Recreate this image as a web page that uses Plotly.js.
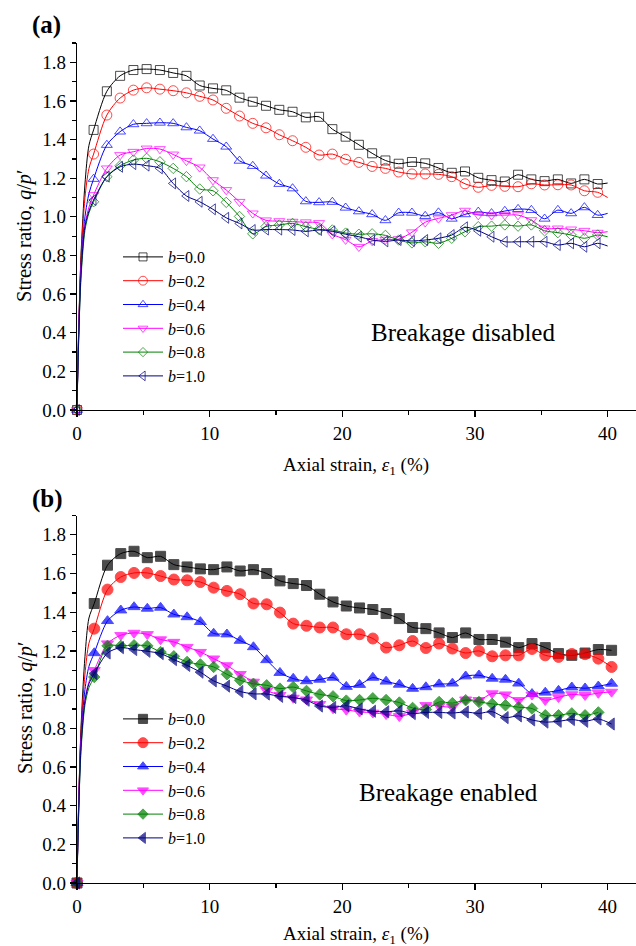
<!DOCTYPE html>
<html>
<head>
<meta charset="utf-8">
<script src="https://cdn.plot.ly/plotly-3.0.1.min.js"></script>
<style>
  html, body { margin: 0; padding: 0; background: #fff; }
  #chart { width: 636px; height: 946px; }
</style>
</head>
<body>
<div id="chart"></div>
<script>
// ---------- data ----------
const bLabels = ['0.0', '0.2', '0.4', '0.6', '0.8', '1.0'];

// initial steep rise (both panels)
const riseStrain = [0, 0.1, 0.3, 0.6, 0.9];

// (a) breakage disabled
const topStrain = [1.25, 2.25, 3.25, 4.25, 5.25, 6.25, 7.25, 8.25, 9.25, 10.25,
  11.25, 12.25, 13.25, 14.25, 15.25, 16.25, 17.25, 18.25, 19.25, 20.25,
  21.25, 22.25, 23.25, 24.25, 25.25, 26.25, 27.25, 28.25, 29.25, 30.25,
  31.25, 32.25, 33.25, 34.25, 35.25, 36.25, 37.25, 38.25, 39.25];
const topEndStrain = 40.0;

const topRiseB00 = [0, 0.35, 0.80, 1.17, 1.37];
const topRiseB02 = [0, 0.34, 0.78, 1.10, 1.25];
const topRiseB04 = [0, 0.33, 0.75, 1.00, 1.12];
const topRiseB06 = [0, 0.32, 0.72, 0.96, 1.05];
const topRiseB08 = [0, 0.30, 0.68, 0.93, 1.02];
const topRiseB10 = [0, 0.30, 0.70, 0.95, 1.03];

const topB00 = [1.45, 1.65, 1.73, 1.76, 1.765, 1.76, 1.745, 1.73, 1.68, 1.665,
  1.655, 1.617, 1.596, 1.575, 1.554, 1.544, 1.515, 1.518, 1.454, 1.415,
  1.373, 1.329, 1.292, 1.275, 1.284, 1.277, 1.253, 1.228, 1.235, 1.202,
  1.19, 1.183, 1.218, 1.194, 1.185, 1.194, 1.173, 1.194, 1.17];
const topB02 = [1.325, 1.527, 1.615, 1.656, 1.668, 1.661, 1.653, 1.642, 1.624, 1.605,
  1.562, 1.522, 1.484, 1.461, 1.425, 1.394, 1.36, 1.32, 1.325, 1.298,
  1.282, 1.261, 1.251, 1.232, 1.222, 1.222, 1.22, 1.208, 1.171, 1.153,
  1.163, 1.158, 1.156, 1.171, 1.165, 1.166, 1.165, 1.135, 1.127];
const topB04 = [1.196, 1.372, 1.441, 1.479, 1.484, 1.487, 1.484, 1.463, 1.446, 1.403,
  1.363, 1.29, 1.263, 1.213, 1.17, 1.147, 1.08, 1.075, 1.077, 1.047,
  1.028, 1.013, 0.982, 1.021, 1.021, 1.004, 1.022, 0.99, 1.013, 1.026,
  1.018, 1.03, 1.04, 1.035, 0.99, 1.035, 1.018, 1.049, 1.009];
const topB06 = [1.113, 1.251, 1.32, 1.337, 1.354, 1.351, 1.323, 1.29, 1.256, 1.19,
  1.139, 1.078, 1.018, 0.982, 0.978, 0.975, 0.972, 0.968, 0.91, 0.882,
  0.845, 0.875, 0.882, 0.885, 0.92, 0.972, 0.992, 1.009, 1.032, 1.009,
  1.009, 1.009, 1.009, 0.983, 0.94, 0.94, 0.935, 0.928, 0.918];
const topB08 = [1.078, 1.208, 1.265, 1.294, 1.303, 1.285, 1.251, 1.208, 1.144, 1.135,
  1.075, 1.002, 0.912, 0.95, 0.958, 0.966, 0.949, 0.935, 0.932, 0.916,
  0.91, 0.912, 0.904, 0.88, 0.865, 0.871, 0.863, 0.889, 0.923, 0.949,
  0.952, 0.958, 0.952, 0.958, 0.928, 0.918, 0.906, 0.889, 0.906];
const topB10 = [1.087, 1.208, 1.259, 1.273, 1.265, 1.251, 1.173, 1.108, 1.078, 1.039,
  0.995, 0.966, 0.932, 0.934, 0.934, 0.932, 0.925, 0.932, 0.925, 0.91,
  0.897, 0.88, 0.873, 0.88, 0.875, 0.88, 0.889, 0.906, 0.946, 0.928,
  0.897, 0.871, 0.871, 0.871, 0.871, 0.854, 0.863, 0.845, 0.863];
const topEnd = [1.175, 1.10, 1.018, 0.923, 0.897, 0.849];

// (b) breakage enabled
const botStrain = [1.3, 2.3, 3.3, 4.3, 5.3, 6.3, 7.3, 8.3, 9.3, 10.3,
  11.3, 12.3, 13.3, 14.3, 15.3, 16.3, 17.3, 18.3, 19.3, 20.3,
  21.3, 22.3, 23.3, 24.3, 25.3, 26.3, 27.3, 28.3, 29.3, 30.3,
  31.3, 32.3, 33.3, 34.3, 35.3, 36.3, 37.3, 38.3, 39.3, 40.3];

const botRiseB00 = [0, 0.35, 0.80, 1.17, 1.37];
const botRiseB02 = [0, 0.34, 0.78, 1.08, 1.24];
const botRiseB04 = [0, 0.33, 0.75, 1.00, 1.12];
const botRiseB06 = [0, 0.32, 0.72, 0.95, 1.04];
const botRiseB08 = [0, 0.30, 0.68, 0.92, 1.01];
const botRiseB10 = [0, 0.30, 0.70, 0.94, 1.03];

const botB00 = [1.445, 1.643, 1.703, 1.715, 1.682, 1.689, 1.646, 1.634, 1.624, 1.62,
  1.634, 1.613, 1.62, 1.6, 1.562, 1.548, 1.538, 1.493, 1.453, 1.432,
  1.422, 1.414, 1.393, 1.367, 1.321, 1.315, 1.293, 1.269, 1.293, 1.259,
  1.259, 1.245, 1.217, 1.238, 1.217, 1.186, 1.177, 1.189, 1.207, 1.203];
const botB02 = [1.315, 1.517, 1.582, 1.603, 1.603, 1.587, 1.569, 1.565, 1.556, 1.527,
  1.51, 1.493, 1.445, 1.441, 1.398, 1.341, 1.33, 1.321, 1.321, 1.286,
  1.286, 1.264, 1.217, 1.229, 1.251, 1.215, 1.238, 1.212, 1.189, 1.2,
  1.172, 1.177, 1.177, 1.21, 1.177, 1.169, 1.184, 1.183, 1.16, 1.117];
const botB04 = [1.189, 1.355, 1.41, 1.427, 1.419, 1.424, 1.389, 1.375, 1.35, 1.29,
  1.286, 1.253, 1.22, 1.153, 1.087, 1.057, 1.044, 1.052, 1.062, 1.015,
  1.025, 1.062, 1.042, 1.026, 1.005, 1.013, 1.028, 1.032, 1.069, 1.074,
  1.057, 1.052, 1.032, 0.978, 0.985, 0.995, 1.012, 1.007, 1.017, 1.031];
const botB06 = [1.10, 1.238, 1.281, 1.293, 1.286, 1.259, 1.246, 1.22, 1.194, 1.16,
  1.125, 1.08, 1.04, 0.995, 0.972, 0.957, 0.948, 0.925, 0.902, 0.895,
  0.885, 0.88, 0.872, 0.862, 0.88, 0.919, 0.915, 0.91, 0.948, 0.945,
  0.98, 0.974, 0.945, 0.973, 0.945, 0.96, 0.975, 0.971, 0.982, 0.988];
const botB08 = [1.065, 1.226, 1.226, 1.229, 1.226, 1.194, 1.172, 1.143, 1.13, 1.117,
  1.079, 1.048, 1.03, 1.022, 1.005, 1.013, 0.993, 0.975, 0.965, 0.943,
  0.946, 0.955, 0.946, 0.933, 0.905, 0.897, 0.936, 0.93, 0.945, 0.936,
  0.926, 0.919, 0.909, 0.902, 0.867, 0.867, 0.877, 0.867, 0.882];
const botB10 = [1.083, 1.189, 1.217, 1.207, 1.198, 1.186, 1.155, 1.125, 1.09, 1.045,
  1.018, 0.99, 0.978, 0.977, 0.965, 0.959, 0.945, 0.915, 0.908, 0.916,
  0.9, 0.888, 0.885, 0.89, 0.876, 0.882, 0.882, 0.879, 0.884, 0.877,
  0.886, 0.855, 0.864, 0.843, 0.832, 0.836, 0.845, 0.836, 0.848, 0.822];

// ---------- styles ----------
const colors = ['#000000', '#FF0000', '#0000FF', '#FF00FF', '#008000', '#000080'];
const symTop = ['square-open', 'circle-open', 'triangle-up-open', 'triangle-down-open', 'diamond-open', 'triangle-left-open'];
const symBot = ['square', 'circle', 'triangle-up', 'triangle-down', 'diamond', 'triangle-left'];
const sizeTop = [9, 10, 9.5, 9.5, 8, 9.5];
const sizeBot = [10, 11, 10.5, 10.5, 8.8, 10.5];

const topRise = [topRiseB00, topRiseB02, topRiseB04, topRiseB06, topRiseB08, topRiseB10];
const topVals = [topB00, topB02, topB04, topB06, topB08, topB10];
const botRise = [botRiseB00, botRiseB02, botRiseB04, botRiseB06, botRiseB08, botRiseB10];
const botVals = [botB00, botB02, botB04, botB06, botB08, botB10];

function build(i, rise, vals, strain, endX, endY, sym, sz, xa, ya, leg) {
  const mx = strain.slice(0, vals.length);
  let x = riseStrain.concat(mx);
  let y = rise.concat(vals);
  let s = [sz, 0, 0, 0, 0].concat(vals.map(() => sz));
  if (endX !== null) { x.push(endX); y.push(endY); s.push(0); }
  return {
    type: 'scatter', mode: 'lines+markers',
    x: x, y: y, xaxis: xa, yaxis: ya, legend: leg,
    name: '<i>b</i>=' + bLabels[i],
    line: { color: colors[i], width: 1, shape: 'spline', smoothing: 0.8 },
    marker: { symbol: sym, size: s, color: colors[i], line: { color: colors[i], width: 1 } },
    cliponaxis: false, hoverinfo: 'skip'
  };
}

const traces = [];
for (let i = 0; i < 6; i++) traces.push(build(i, topRise[i], topVals[i], topStrain, topEndStrain, topEnd[i], symTop[i], sizeTop[i], 'x', 'y', 'legend'));
for (let i = 0; i < 6; i++) traces.push(build(i, botRise[i], botVals[i], botStrain, null, null, symBot[i], sizeBot[i], 'x2', 'y2', 'legend2'));

// ---------- layout ----------
const FONT = 'Liberation Serif, Times New Roman, serif';
const L = 77, T = 43, W = 559, H = 840;
const px = v => (v - L) / W;
const py = v => (T + H - v) / H;

function xAxis(anchor) {
  return {
    anchor: anchor, domain: [0, 1], range: [0, 42.14],
    showline: true, linecolor: '#000', linewidth: 1.3,
    ticks: 'outside', ticklen: 6, tickwidth: 1.3, tickcolor: '#000',
    dtick: 10, tick0: 0, showgrid: false, zeroline: false,
    minor: { ticks: 'outside', ticklen: 3.5, tickwidth: 1.3, tickcolor: '#000', dtick: 5, showgrid: false },
    tickfont: { family: FONT, size: 19, color: '#000' }
  };
}
function yAxis(anchor, dom) {
  return {
    anchor: anchor, domain: dom, range: [0, 1.9],
    showline: true, linecolor: '#000', linewidth: 1.3,
    ticks: 'outside', ticklen: 6, tickwidth: 1.3, tickcolor: '#000',
    dtick: 0.2, tick0: 0, tickformat: '.1f', showgrid: false, zeroline: false,
    minor: { ticks: 'outside', ticklen: 3.5, tickwidth: 1.3, tickcolor: '#000', dtick: 0.1, showgrid: false },
    tickfont: { family: FONT, size: 19, color: '#000' }
  };
}

function legendAt(xp, yp) {
  return {
    x: px(xp), y: py(yp), xanchor: 'left', yanchor: 'top',
    bgcolor: 'rgba(0,0,0,0)', borderwidth: 0,
    font: { family: FONT, size: 16, color: '#000' },
    itemwidth: 40, tracegroupgap: 0
  };
}

const ann = (text, x, y, size, extra) => Object.assign({
  text: text, xref: 'paper', yref: 'paper', x: px(x), y: py(y),
  xanchor: 'center', yanchor: 'middle', showarrow: false,
  font: { family: FONT, size: size, color: '#000' }
}, extra || {});

const layout = {
  width: 636, height: 946,
  margin: { l: L, r: 0, t: T, b: 946 - T - H },
  paper_bgcolor: '#fff', plot_bgcolor: '#fff',
  font: { family: FONT, size: 19, color: '#000' },
  showlegend: true,
  xaxis: xAxis('y'),
  yaxis: yAxis('x', [py(410), 1]),
  xaxis2: xAxis('y2'),
  yaxis2: yAxis('x2', [0, py(515.5)]),
  legend: legendAt(118, 240),
  legend2: legendAt(118, 702),
  annotations: [
    ann('<b>(a)</b>', 46, 25, 25),
    ann('<b>(b)</b>', 47, 499, 25),
    ann('Stress ratio, <i>q</i>/<i>p</i>′', 25, 236, 20.5, { textangle: -90 }),
    ann('Stress ratio, <i>q</i>/<i>p</i>′', 25, 708, 20.5, { textangle: -90 }),
    ann('Axial strain, <i>ε</i><sub>1</sub> (%)', 356, 466, 19),
    ann('Axial strain, <i>ε</i><sub>1</sub> (%)', 356, 935, 19),
    ann('Breakage disabled', 463, 332, 25),
    ann('Breakage enabled', 448, 792, 25)
  ]
};

Plotly.newPlot('chart', traces, layout, { staticPlot: true, displayModeBar: false });
</script>
</body>
</html>
